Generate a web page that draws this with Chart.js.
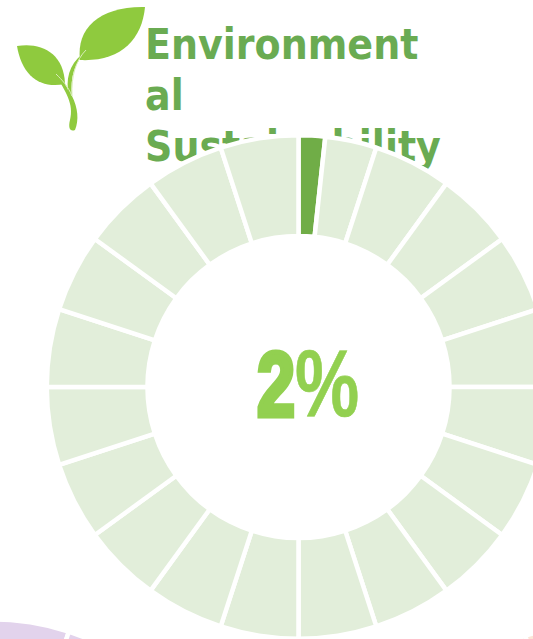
<!DOCTYPE html>
<html>
<head>
<meta charset="utf-8">
<script src="https://cdn.jsdelivr.net/npm/chart.js@4"></script>
<style>
html, body { margin: 0; padding: 0; background: #fff; width: 533px; height: 639px; overflow: hidden; }
#page { position: relative; width: 533px; height: 639px; overflow: hidden; }
#heading { position: absolute; left: 145px; top: 19px; width: 320px; margin: 0; color: #6aab52;
  font: bold 42px/51px "DejaVu Sans", sans-serif; transform: scaleX(0.905); transform-origin: 0 0; }
#value { position: absolute; left: 257px; top: 333px; color: #92d050; white-space: nowrap;
  font: bold 90px/100px "Liberation Sans", sans-serif;
  transform: scaleX(0.76); transform-origin: 0 0; }
#value .num { -webkit-text-stroke: 5px #92d050; }
#value .pct { font-size: 95px; -webkit-text-stroke: 0.6px #92d050; }
#mainWrap { position: absolute; left: 0; top: 0; width: 597px; height: 641px; }
#otherWrap { position: absolute; left: -263px; top: 617px; width: 508px; height: 508px; }
#thirdWrap { position: absolute; left: 349px; top: 621px; width: 508px; height: 508px; }
#logo { position: absolute; left: 15px; top: 4px; }
</style>
</head>
<body>
<div id="page">
  <h1 id="heading">Environment<br>al<br>Sustainability</h1>
  <svg id="logo" width="132" height="130" viewBox="15 4 132 130">
    <path d="M80 60 C76 28 100 6 145 7 C142 40 120 62 80 60 Z" fill="#8fca3e"/>
    <path d="M17 46 C40 42 64 52 65 84 C40 89 22 76 17 46 Z" fill="#8fca3e"/>
    <path d="M88 50 C74 62 70 78 72 96 C78 108 79 120 75 130 C70 132 68 128 70 120 C74 104 66 92 55 74 C62 80 67 86 68 90 C66 74 72 60 88 50 Z" fill="#8fca3e"/>
    <path d="M86 50 C76 60 71 76 72 96 M56 74 C62 80 68 86 72 96" fill="none" stroke="#d8edb8" stroke-width="1"/>
  </svg>
  <div id="mainWrap"><canvas id="chartMain"></canvas></div>
  <div id="otherWrap"><canvas id="chartOther"></canvas></div>
  <div id="thirdWrap"><canvas id="chartThird"></canvas></div>
  <div id="value"><span class="num">2</span><span class="pct">%</span></div>
</div>
<script>
var mainValues = [1.7, 3.3, 5, 5, 5, 5, 5, 5, 5, 5, 5, 5, 5, 5, 5, 5, 5, 5, 5, 5, 5];
var mainLabels = ["Achieved", "Rest 1", "2", "3", "4", "5", "6", "7", "8", "9", "10", "11", "12", "13", "14", "15", "16", "17", "18", "19", "20"];
var otherValues = [5, 5, 5, 5, 5, 5, 5, 5, 5, 5, 5, 5, 5, 5, 5, 5, 5, 5, 5, 5];

var mainColors = mainValues.map(function (v, i) {
    return i === 0 ? '#70ad47' : '#e2eeda';
});

function ring(id, labels, values, colors, padding) {
    return new Chart(document.getElementById(id), {
        type: 'doughnut',
        data: {
            labels: labels,
            datasets: [
                {
                    data: values,
                    backgroundColor: colors,
                    borderColor: '#ffffff',
                    borderWidth: 4.5
                }
            ]
        },
        options: {
            responsive: true,
            maintainAspectRatio: false,
            animation: false,
            cutout: '60%',
            layout: { padding: padding },
            plugins: { legend: { display: false }, tooltip: { enabled: false } }
        }
    });
}

var otherLabels = otherValues.map(function (v, i) { return String(i + 1); });

ring('chartMain', mainLabels, mainValues, mainColors, { top: 133, bottom: 0, left: 0, right: 0 });
ring('chartOther', otherLabels, otherValues, '#e2d3ec', 0);
ring('chartThird', otherLabels, otherValues, '#fbe5d6', 0);
</script>
</body>
</html>
